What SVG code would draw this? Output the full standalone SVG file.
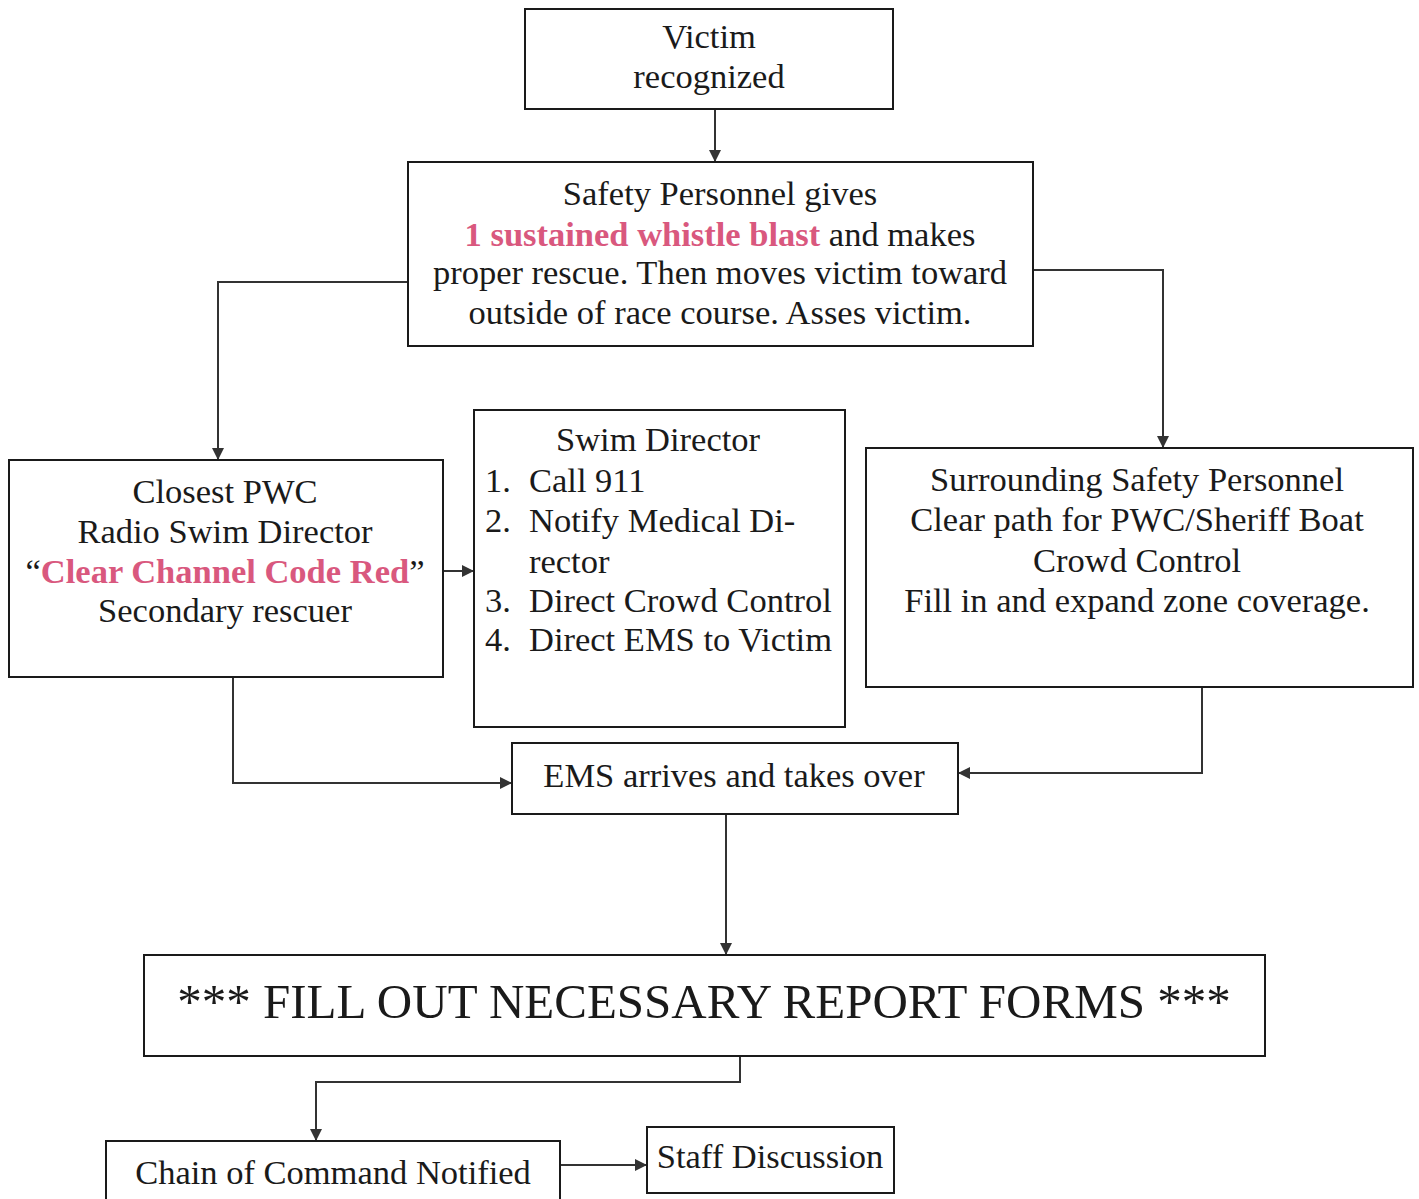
<svg xmlns="http://www.w3.org/2000/svg" width="1419" height="1199" viewBox="0 0 1419 1199">
<defs>
<marker id="ah" viewBox="0 0 10 10" refX="10" refY="5" markerWidth="12" markerHeight="12" markerUnits="userSpaceOnUse" orient="auto"><path d="M0,0 L10,5 L0,10 z" fill="#333"/></marker>
<style>
.box{fill:#fff;stroke:#1a1a1a;stroke-width:2}
.t{font-family:"Liberation Serif","Times New Roman",serif;font-size:34.5px;fill:#1a1a1a;text-anchor:middle}
.l{text-anchor:start}
.red{fill:#d9587e;font-weight:bold}
.c{fill:none;stroke:#333;stroke-width:2;marker-end:url(#ah)}
</style>
</defs>
<rect width="1419" height="1199" fill="#fff"/>
<g id="connectors">
<path class="c" d="M715,109 V162"/>
<path class="c" d="M408,282 H218 V460"/>
<path class="c" d="M1033,270 H1163 V448"/>
<path class="c" d="M443,571 H474"/>
<path class="c" d="M233,677 V783 H512"/>
<path class="c" d="M1202,687 V773 H958"/>
<path class="c" d="M726,814 V955"/>
<path class="c" d="M740,1056 V1082 H316 V1141"/>
<path class="c" d="M560,1165 H647"/>
</g>
<g id="victim">
<rect class="box" x="525" y="9" width="368" height="100"/>
<text class="t" x="709" y="48">Victim</text>
<text class="t" x="709" y="88">recognized</text>
</g>
<g id="safety">
<rect class="box" x="408" y="162" width="625" height="184"/>
<text class="t" x="720" y="205">Safety Personnel gives</text>
<text class="t" x="720" y="246"><tspan class="red">1 sustained whistle blast</tspan> and makes</text>
<text class="t" x="720" y="284">proper rescue. Then moves victim toward</text>
<text class="t" x="720" y="324">outside of race course. Asses victim.</text>
</g>
<g id="pwc">
<rect class="box" x="9" y="460" width="434" height="217"/>
<text class="t" x="225" y="503">Closest PWC</text>
<text class="t" x="225" y="543">Radio Swim Director</text>
<text class="t" x="225" y="583">“<tspan class="red">Clear Channel Code Red</tspan>”</text>
<text class="t" x="225" y="622">Secondary rescuer</text>
</g>
<g id="swim">
<rect class="box" x="474" y="410" width="371" height="317"/>
<text class="t" x="658" y="451">Swim Director</text>
<text class="t l" x="485" y="492">1.</text><text class="t l" x="529" y="492">Call 911</text>
<text class="t l" x="485" y="532">2.</text><text class="t l" x="529" y="532">Notify Medical Di-</text>
<text class="t l" x="529" y="573">rector</text>
<text class="t l" x="485" y="612">3.</text><text class="t l" x="529" y="612">Direct Crowd Control</text>
<text class="t l" x="485" y="651">4.</text><text class="t l" x="529" y="651">Direct EMS to Victim</text>
</g>
<g id="surrounding">
<rect class="box" x="866" y="448" width="547" height="239"/>
<text class="t" x="1137" y="491">Surrounding Safety Personnel</text>
<text class="t" x="1137" y="531">Clear path for PWC/Sheriff Boat</text>
<text class="t" x="1137" y="572">Crowd Control</text>
<text class="t" x="1137" y="612">Fill in and expand zone coverage.</text>
</g>
<g id="ems">
<rect class="box" x="512" y="743" width="446" height="71"/>
<text class="t" x="734" y="787">EMS arrives and takes over</text>
</g>
<g id="fill">
<rect class="box" x="144" y="955" width="1121" height="101"/>
<text class="t" x="704" y="1018" style="font-size:49px">*** FILL OUT NECESSARY REPORT FORMS ***</text>
</g>
<g id="chain">
<rect class="box" x="106" y="1141" width="454" height="60"/>
<text class="t" x="333" y="1184">Chain of Command Notified</text>
</g>
<g id="staff">
<rect class="box" x="647" y="1127" width="247" height="66"/>
<text class="t" x="770" y="1168">Staff Discussion</text>
</g>
</svg>
